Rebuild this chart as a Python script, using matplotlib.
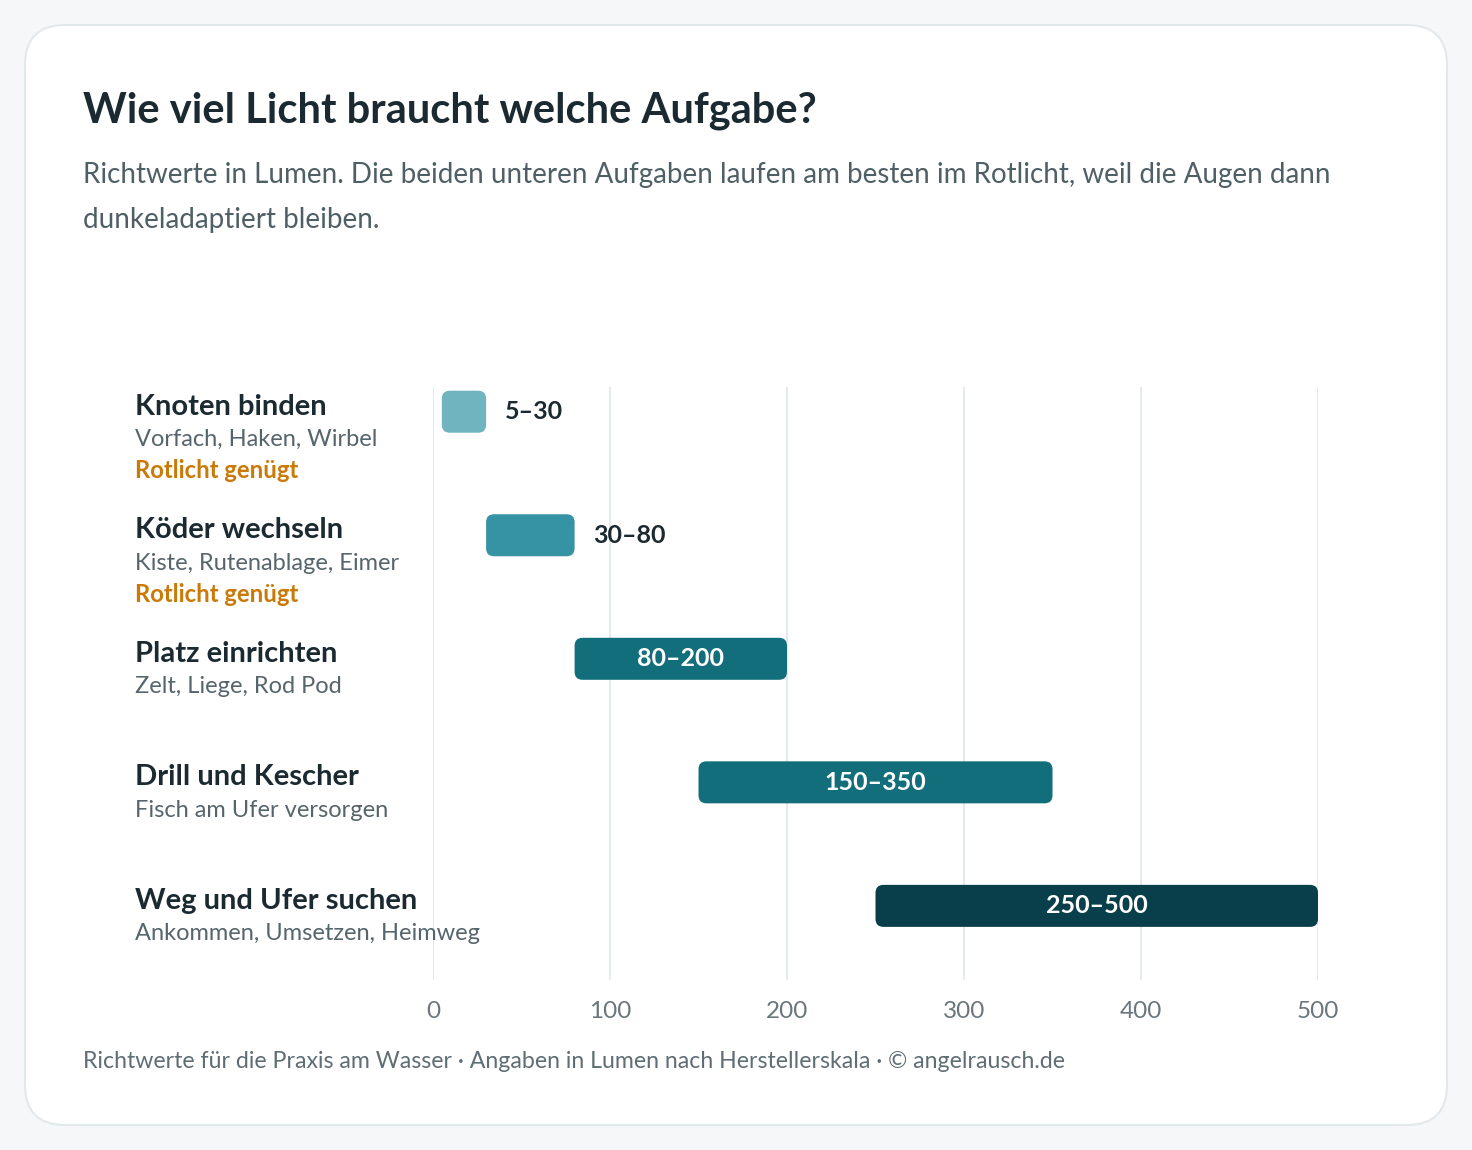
import matplotlib
matplotlib.use("Agg")
import matplotlib.pyplot as plt
from matplotlib.patches import FancyBboxPatch

plt.rcParams['font.family'] = ['Lato', 'DejaVu Sans']

# data
aufgaben = ["Knoten binden", "Köder wechseln", "Platz einrichten",
            "Drill und Kescher", "Weg und Ufer suchen"]
details = ["Vorfach, Haken, Wirbel", "Kiste, Rutenablage, Eimer",
           "Zelt, Liege, Rod Pod", "Fisch am Ufer versorgen",
           "Ankommen, Umsetzen, Heimweg"]
rotlicht = [True, True, False, False, False]
lumen_min = [5, 30, 80, 150, 250]
lumen_max = [30, 80, 200, 350, 500]
farben = ["#6fb4bf", "#3593a3", "#136e7b", "#136e7b", "#083f4b"]
ticks = [0, 100, 200, 300, 400, 500]

W, H = 1472, 1150
fig = plt.figure(figsize=(W / 100, H / 100), dpi=100)
fig.patch.set_facecolor("#f5f7f8")

# background card, pixel coordinates
bg = fig.add_axes([0, 0, 1, 1])
bg.set_xlim(0, W)
bg.set_ylim(H, 0)
bg.axis("off")
card = FancyBboxPatch((25, 25), 1422, 1100, boxstyle="round,pad=0,rounding_size=40",
                      facecolor="white", edgecolor="#e3e8ea", linewidth=1.5)
bg.add_patch(card)

bg.text(83, 111, "Wie viel Licht braucht welche Aufgabe?", fontsize=30, fontweight="bold",
        color="#1b2a30", va="center")
bg.text(83, 175, "Richtwerte in Lumen. Die beiden unteren Aufgaben laufen am besten im Rotlicht, weil die Augen dann",
        fontsize=20, color="#4f5f66", va="center")
bg.text(83, 220, "dunkeladaptiert bleiben.", fontsize=20, color="#4f5f66", va="center")
bg.text(83, 1062, "Richtwerte für die Praxis am Wasser · Angaben in Lumen nach Herstellerskala · © angelrausch.de",
        fontsize=16.7, color="#5f6d74", va="center")

# chart axes
ax = fig.add_axes([433 / W, 1 - 980 / H, (1318 - 433) / W, (980 - 387) / H])
ax.set_facecolor("none")
ax.set_xlim(0, 500)
ax.set_ylim(4.6, -0.2)
for s in ax.spines.values():
    s.set_visible(False)
ax.set_xticks(ticks)
ax.set_yticks([])
ax.tick_params(axis="x", length=0, pad=15, labelsize=17.5, labelcolor="#6a767c")
ax.grid(axis="x", color="#e6eaec", linewidth=1.5)
ax.set_axisbelow(True)

h = 0.34
for i in range(len(aufgaben)):
    lo, hi = lumen_min[i], lumen_max[i]
    bar = FancyBboxPatch((lo, i - h / 2), hi - lo, h,
                         boxstyle="round,pad=0,rounding_size=4.5",
                         mutation_aspect=0.0143, facecolor=farben[i],
                         edgecolor="none", zorder=3)
    ax.add_patch(bar)
    label = f"{lo}–{hi}"
    if hi - lo < 60:
        ax.text(hi + 10.5, i, label, va="center", ha="left", fontsize=18,
                fontweight="bold", color="#1b2a30", zorder=4)
    else:
        ax.text((lo + hi) / 2, i, label, va="center", ha="center", fontsize=18,
                fontweight="bold", color="white", zorder=4)

    # row labels on the left
    ax.annotate(aufgaben[i], xy=(135 / W, i), xycoords=("figure fraction", "data"),
                xytext=(0, 3.5), textcoords="offset points", va="center", ha="left",
                fontsize=21, fontweight="bold", color="#1b2a30", annotation_clip=False)
    ax.annotate(details[i], xy=(135 / W, i), xycoords=("figure fraction", "data"),
                xytext=(0, -20), textcoords="offset points", va="center", ha="left",
                fontsize=17, color="#56656c", annotation_clip=False)
    if rotlicht[i]:
        ax.annotate("Rotlicht genügt", xy=(135 / W, i), xycoords=("figure fraction", "data"),
                    xytext=(0, -42.5), textcoords="offset points", va="center", ha="left",
                    fontsize=17.2, fontweight="bold", color="#c97a08", annotation_clip=False)

fig.savefig("out.png", dpi=100, facecolor=fig.get_facecolor())
